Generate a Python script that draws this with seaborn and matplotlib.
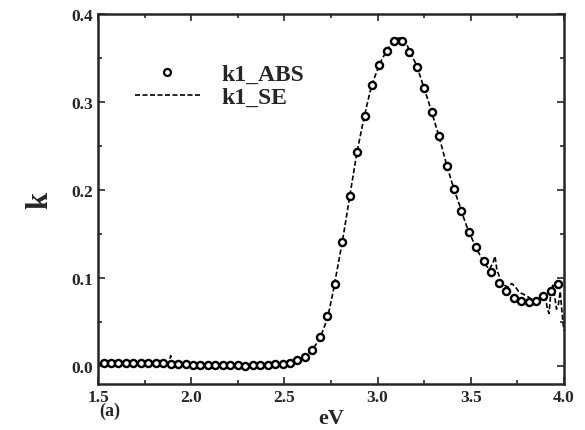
import numpy as np
import pandas as pd
import matplotlib
matplotlib.use('Agg')
import matplotlib.pyplot as plt
import seaborn as sns
from matplotlib.lines import Line2D
from matplotlib.ticker import MultipleLocator

# k1_ABS (circles)
abs_ev = [1.53, 1.57, 1.61, 1.65, 1.69, 1.73, 1.77, 1.81, 1.85, 1.89, 1.93, 1.97,
          2.01, 2.05, 2.09, 2.13, 2.17, 2.21, 2.25, 2.29, 2.33, 2.37, 2.41, 2.45,
          2.49, 2.53, 2.57, 2.61, 2.65, 2.69, 2.73, 2.77, 2.81, 2.85, 2.89, 2.93,
          2.97, 3.01, 3.05, 3.09, 3.13, 3.17, 3.21, 3.25, 3.29, 3.33, 3.37, 3.41,
          3.45, 3.49, 3.53, 3.57, 3.61, 3.65, 3.69, 3.73, 3.77, 3.81, 3.85, 3.89,
          3.93, 3.97]
abs_k = [0.004, 0.004, 0.004, 0.004, 0.004, 0.004, 0.004, 0.004, 0.004, 0.003, 0.003, 0.003,
         0.002, 0.002, 0.002, 0.002, 0.001, 0.001, 0.001, 0.000, 0.001, 0.001, 0.002, 0.003,
         0.003, 0.004, 0.007, 0.011, 0.018, 0.033, 0.057, 0.094, 0.141, 0.193, 0.243, 0.284,
         0.319, 0.342, 0.358, 0.369, 0.369, 0.357, 0.340, 0.316, 0.289, 0.261, 0.228, 0.201,
         0.176, 0.153, 0.136, 0.120, 0.107, 0.095, 0.085, 0.078, 0.074, 0.073, 0.074, 0.080,
         0.086, 0.094]

# k1_SE (dashed line)
se_ev = [1.50, 1.55, 1.60, 1.65, 1.70, 1.75, 1.80, 1.85, 1.88, 1.89, 1.90, 1.95,
         2.00, 2.05, 2.10, 2.15, 2.20, 2.25, 2.30, 2.35, 2.40, 2.45, 2.50,
         2.52, 2.54, 2.56, 2.58, 2.60, 2.62, 2.64, 2.66, 2.68, 2.70, 2.72, 2.74,
         2.76, 2.78, 2.80, 2.82, 2.84, 2.86, 2.88, 2.90, 2.92, 2.94, 2.96, 2.98,
         3.00, 3.02, 3.04, 3.06, 3.08, 3.10, 3.12, 3.14, 3.16, 3.18, 3.20, 3.22,
         3.24, 3.26, 3.28, 3.30, 3.32, 3.34, 3.36, 3.38, 3.40, 3.42, 3.44, 3.46,
         3.48, 3.50, 3.52, 3.54, 3.56, 3.58, 3.60, 3.62, 3.63, 3.64, 3.66, 3.68,
         3.70, 3.72, 3.74, 3.76, 3.78, 3.80, 3.82, 3.84, 3.86, 3.88, 3.90, 3.91,
         3.92, 3.93, 3.94, 3.95, 3.96, 3.97, 3.98, 3.99, 4.00]
se_k = [0.003, 0.003, 0.003, 0.003, 0.003, 0.003, 0.003, 0.003, 0.004, 0.012, 0.003, 0.002,
        0.001, 0.000, 0.000, 0.000, 0.000, 0.000, 0.000, 0.001, 0.002, 0.003, 0.004,
        0.005, 0.006, 0.007, 0.008, 0.010, 0.013, 0.017, 0.022, 0.028, 0.037, 0.048, 0.063,
        0.083, 0.106, 0.129, 0.153, 0.179, 0.205, 0.231, 0.254, 0.275, 0.294, 0.312, 0.326,
        0.337, 0.347, 0.355, 0.362, 0.368, 0.372, 0.373, 0.371, 0.364, 0.354, 0.346, 0.335,
        0.322, 0.309, 0.296, 0.282, 0.268, 0.253, 0.237, 0.222, 0.208, 0.195, 0.183, 0.170,
        0.158, 0.148, 0.139, 0.130, 0.122, 0.115, 0.110, 0.118, 0.125, 0.110, 0.098, 0.092,
        0.090, 0.094, 0.090, 0.084, 0.082, 0.080, 0.077, 0.075, 0.076, 0.078, 0.082, 0.066,
        0.060, 0.085, 0.092, 0.080, 0.065, 0.070, 0.085, 0.060, 0.040]

abs_df = pd.DataFrame({'eV': abs_ev, 'k': abs_k})
se_df = pd.DataFrame({'eV': se_ev, 'k': se_k})

sns.set_style('ticks')
plt.rcParams['font.family'] = ['Liberation Serif', 'DejaVu Serif']
plt.rcParams['font.weight'] = 'bold'

fig = plt.figure(figsize=(5.85, 4.31), dpi=100)
ax = fig.add_axes([0.1675, 0.107, 0.7965, 0.858])

sns.lineplot(data=se_df, x='eV', y='k', ax=ax, color='black', linewidth=1.2,
             linestyle=(0, (3, 1.5)), legend=False)
sns.scatterplot(data=abs_df, x='eV', y='k', ax=ax, marker='o', s=26,
                facecolor='white', edgecolor='black', linewidth=1.7,
                legend=False, zorder=3)

ax.set_xlim(1.5, 4.0)
ax.set_ylim(-0.02, 0.4)
ax.xaxis.set_major_locator(MultipleLocator(0.5))
ax.xaxis.set_minor_locator(MultipleLocator(0.25))
ax.yaxis.set_major_locator(MultipleLocator(0.1))
ax.yaxis.set_minor_locator(MultipleLocator(0.05))
ax.set_xticklabels([f'{v:.1f}' for v in ax.get_xticks()])
ax.set_yticklabels([f'{v:.1f}' for v in ax.get_yticks()])
ax.tick_params(which='both', direction='in', top=True, right=True,
               labelsize=12.5, width=1.2)
ax.tick_params(which='major', length=5)
ax.tick_params(which='minor', length=3)
for sp in ax.spines.values():
    sp.set_linewidth(1.8)

ax.set_xlabel('eV', fontsize=16, fontweight='bold', labelpad=2)
ax.set_ylabel('k', fontsize=22, fontweight='bold', labelpad=12)
fig.text(0.17, 0.035, '(a)', fontsize=13, fontweight='bold')

handles = [
    Line2D([], [], marker='o', linestyle='none', markersize=5,
           markerfacecolor='white', markeredgecolor='black', markeredgewidth=1.6),
    Line2D([], [], color='black', linewidth=1.2, linestyle=(0, (3, 1.5))),
]
ax.legend(handles, ['k1_ABS', 'k1_SE'], loc='upper left',
          bbox_to_anchor=(0.079, 0.866), frameon=False, handlelength=2.75,
          handletextpad=0.9, labelspacing=0.05, borderpad=0, borderaxespad=0,
          prop={'size': 17, 'weight': 'bold'})

plt.savefig('out.png', dpi=100)
